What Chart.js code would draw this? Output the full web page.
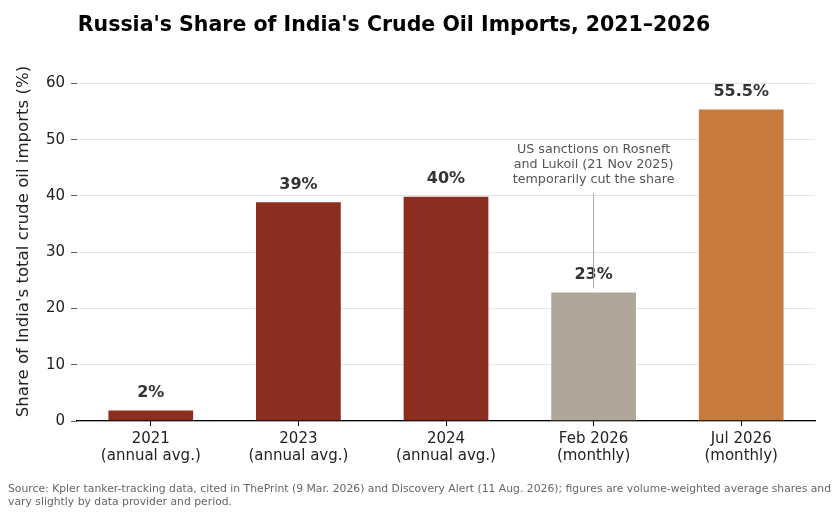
<!DOCTYPE html>
<html>
<head>
<meta charset="utf-8">
<script src="https://cdn.jsdelivr.net/npm/chart.js@4"></script>
<style>
  html, body { margin: 0; padding: 0; background: #fff; }
  #wrap { position: relative; width: 834px; height: 514px; }
  #title {
    position: absolute; left: 0; top: 12px; width: 788px; text-align: center;
    font: bold 20.5px "DejaVu Sans", sans-serif; color: #000;
  }
  #source {
    position: absolute; left: 8px; top: 483px; white-space: nowrap;
    font: 10.8px/12.5px "DejaVu Sans", sans-serif; color: #666;
  }
  canvas { position: absolute; left: 0; top: 0; }
</style>
</head>
<body>
<div id="wrap">
  <canvas id="shareChart" width="834" height="514"></canvas>
  <div id="title">Russia's Share of India's Crude Oil Imports, 2021–2026</div>
  <div id="source">Source: Kpler tanker-tracking data, cited in ThePrint (9 Mar. 2026) and Discovery Alert (11 Aug. 2026); figures are volume-weighted average shares and<br>vary slightly by data provider and period.</div>
</div>
<script>
"use strict";

// data
let periods = [['2021', '(annual avg.)'], ['2023', '(annual avg.)'], ['2024', '(annual avg.)'], ['Feb 2026', '(monthly)'], ['Jul 2026', '(monthly)']]
let shares = [2, 39, 40, 23, 55.5]
let valueLabels = ['2%', '39%', '40%', '23%', '55.5%']
let yTicks = [0, 10, 20, 30, 40, 50, 60]
let barColors = ['#8B2D21', '#8B2D21', '#8B2D21', '#B0A79B', '#C77B3D']
let noteLines = ['US sanctions on Rosneft', 'and Lukoil (21 Nov 2025)', 'temporarily cut the share']

// labels on top of bars + sanctions note
var barText = {
  id: 'barText',
  afterDatasetsDraw: function (chart) {
    var ctx = chart.ctx;
    var meta = chart.getDatasetMeta(0);
    var y = chart.scales.y;
    ctx.save();
    ctx.textAlign = 'center';
    ctx.textBaseline = 'middle';
    ctx.font = 'bold 16px "DejaVu Sans", sans-serif';
    ctx.fillStyle = '#333';
    meta.data.forEach(function (bar, i) {
      ctx.fillText(valueLabels[i], bar.x, bar.y - 17);
    });

    // note for Feb 2026
    var bx = meta.data[3].x;
    ctx.strokeStyle = '#aaa';
    ctx.lineWidth = 1;
    ctx.beginPath();
    ctx.moveTo(bx, y.getPixelForValue(40.5));
    ctx.lineTo(bx, y.getPixelForValue(23.6));
    ctx.stroke();

    ctx.font = '12.7px "DejaVu Sans", sans-serif';
    ctx.fillStyle = '#555';
    var top = y.getPixelForValue(40.5) - 43;
    noteLines.forEach(function (t, i) {
      ctx.fillText(t, bx, top + i * 15);
    });
    ctx.restore();
  }
};

var shareChart = document.getElementById('shareChart');
if (shareChart) {
  new Chart(shareChart, {
    type: 'bar',
    data: {
      labels: periods,
      datasets: [{
        data: shares,
        backgroundColor: barColors,
        borderColor: '#fff',
        borderWidth: 0.8,
        barPercentage: 0.585,
        categoryPercentage: 1,
      }]
    },
    options: {
      responsive: false,
      animation: false,
      layout: {
        padding: { left: 14, right: 19, top: 62, bottom: 43 }
      },
      scales: {
        y: {
          min: 0,
          max: 63.8,
          afterFit: function (s) { s.width = 63; },
          afterBuildTicks: function (s) {
            s.ticks = yTicks.map(function (v) { return { value: v }; });
          },
          border: { display: false },
          grid: {
            color: '#dddddd',
            lineWidth: 0.8,
            tickColor: '#333',
            tickLength: 6,
          },
          ticks: {
            padding: 6,
            color: '#222',
            font: { family: '"DejaVu Sans", sans-serif', size: 15 },
          },
          title: {
            display: true,
            text: "Share of India's total crude oil imports (%)",
            color: '#222',
            font: { family: '"DejaVu Sans", sans-serif', size: 16.6 },
            padding: { top: 0, bottom: 4 },
          }
        },
        x: {
          afterFit: function (s) { s.height = 50; },
          border: { display: true, color: '#000', width: 1.2 },
          grid: {
            offset: false,
            drawOnChartArea: false,
            tickColor: '#000',
            tickLength: 5,
          },
          ticks: {
            padding: 4,
            color: '#222',
            font: { family: '"DejaVu Sans", sans-serif', size: 15, lineHeight: 1.15 },
            maxRotation: 0,
          }
        }
      },
      plugins: {
        legend: { display: false },
        tooltip: { enabled: false },
      }
    },
    plugins: [barText]
  });
}
</script>
</body>
</html>
